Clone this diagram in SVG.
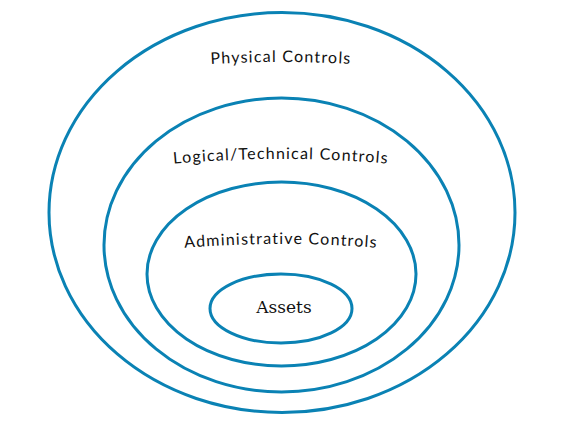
<svg xmlns="http://www.w3.org/2000/svg" xmlns:xlink="http://www.w3.org/1999/xlink" width="562" height="427" viewBox="0 0 562 427">
<style>
.ring{fill:none;stroke:#0A82B4;stroke-width:3}
.lbl{font-family:Lato,"Noto Sans",sans-serif;font-size:16px;fill:#111;letter-spacing:1.2px}
.asset{font-family:"DejaVu Serif","Liberation Serif",serif;font-size:17px;fill:#111}
</style>
<defs>
<path id="arc1" d="M 131 71.4 A 1200 1200 0 0 1 431 71.4"/>
<path id="arc2" d="M 111 171 A 1200 1200 0 0 1 451 171"/>
<path id="arc3" d="M 121 254.7 A 1200 1200 0 0 1 441 254.7"/>
</defs>
<rect width="562" height="427" fill="#fff"/>
<g id="physical">
<ellipse class="ring" cx="282" cy="212.5" rx="233" ry="200"/>
<text class="lbl"><textPath xlink:href="#arc1" href="#arc1" startOffset="50%" text-anchor="middle">Physical Controls</textPath></text>
</g>
<g id="logical">
<ellipse class="ring" cx="281.5" cy="245" rx="177.5" ry="147"/>
<text class="lbl"><textPath xlink:href="#arc2" href="#arc2" startOffset="50%" text-anchor="middle">Logical/Technical Controls</textPath></text>
</g>
<g id="administrative">
<ellipse class="ring" cx="281.5" cy="274" rx="134.5" ry="92"/>
<text class="lbl"><textPath xlink:href="#arc3" href="#arc3" startOffset="50%" text-anchor="middle">Administrative Controls</textPath></text>
</g>
<g id="assets">
<ellipse class="ring" cx="281" cy="308.5" rx="71" ry="34.5"/>
<text class="asset" x="284" y="313" text-anchor="middle">Assets</text>
</g>
<g id="connectors"/>
</svg>
